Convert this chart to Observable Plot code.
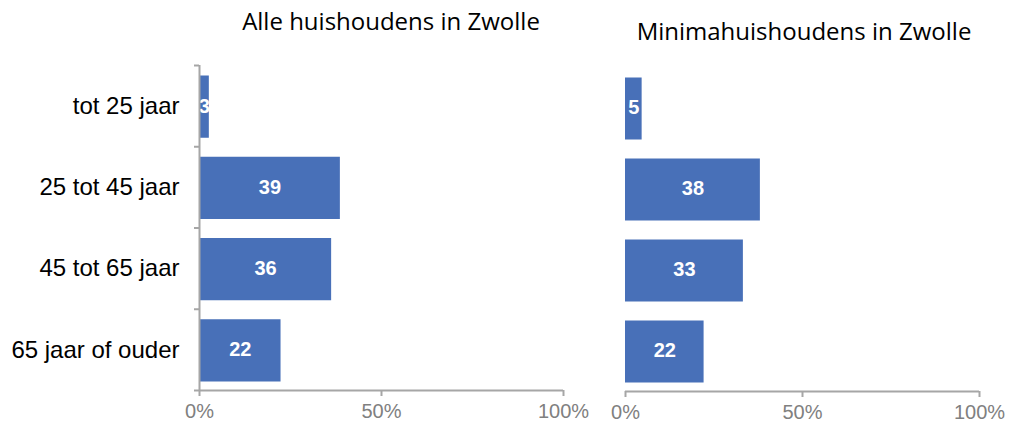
<!DOCTYPE html>
<html><head><meta charset="utf-8">
<script src="https://cdn.jsdelivr.net/npm/d3@7"></script>
<script src="https://cdn.jsdelivr.net/npm/@observablehq/plot@0.6"></script>
<style>
body{margin:0;background:#fff;}
#wrap{position:relative;width:1009px;height:426px;overflow:hidden;background:#fff;}
.panel{position:absolute;top:0;}
.title{position:absolute;font-family:"Open Sans",sans-serif;font-size:24px;color:#000;white-space:nowrap;transform:translateX(-50%);line-height:1;}
</style>
</head><body>
<div id="wrap"></div>
<script>
const categories = ["tot 25 jaar","25 tot 45 jaar","45 tot 65 jaar","65 jaar of ouder"];
const alleValues = [2.7, 38.7, 36.3, 22.4];
const minimaValues = [4.7, 38.1, 33.3, 22.2];
const xTicks = [0, 50, 100];
const titles = ["Alle huishoudens in Zwolle", "Minimahuishoudens in Zwolle"];

const barColor = "#4870b8";
const axisGray = "#a6a6a6";

function makePanel(values, opts) {
  const rows = categories.map((c, i) => ({cat: c, i, value: values[i]}));
  const marks = [
    Plot.rect(rows, {x1: () => 0, x2: "value", y1: "i", y2: d => d.i + 1, insetTop: 10.5, insetBottom: 8.5, fill: barColor}),
    Plot.text(rows, {x: d => d.value / 2, y: d => d.i + 0.5, text: d => String(Math.round(d.value)), fill: "white", fontWeight: "bold", fontSize: 20, fontFamily: "Liberation Sans, Arial, sans-serif"}),
    Plot.ruleY([categories.length], {stroke: axisGray, strokeWidth: 2}),
    Plot.axisX({ticks: xTicks, tickFormat: d => d + "%", tickSize: 6, tickPadding: 7, fontSize: 20, color: "#808080", stroke: axisGray, strokeWidth: 2, strokeOpacity: 1, label: null})
  ];
  if (opts.showY) {
    marks.push(
      Plot.ruleX([0], {stroke: axisGray, strokeWidth: 2}),
      Plot.axisY({ticks: d3.range(categories.length + 1), tickFormat: () => "", tickSize: 5, stroke: axisGray, strokeWidth: 2, strokeOpacity: 1, label: null}),
      Plot.axisY({ticks: categories.map((c, i) => i + 0.5), tickFormat: d => categories[Math.floor(d)], tickSize: 0, tickPadding: 20, fontSize: 24, fill: "#000", label: null})
    );
  }
  const svg = Plot.plot({
    width: opts.width,
    height: 426,
    marginLeft: opts.marginLeft,
    marginRight: opts.marginRight,
    marginTop: opts.marginTop,
    marginBottom: opts.marginBottom,
    style: {fontFamily: "Liberation Sans, Arial, sans-serif", background: "transparent", overflow: "visible"},
    x: {domain: [0, 100], label: null},
    y: {domain: [0, categories.length], reverse: true, label: null, axis: opts.showY ? undefined : null},
    marks
  });
  svg.classList.add("panel");
  svg.style.left = opts.left + "px";
  return svg;
}

const wrap = document.getElementById("wrap");
wrap.appendChild(makePanel(alleValues, {left: 0, width: 580, marginLeft: 199, marginRight: 17, marginTop: 65, marginBottom: 36, showY: true}));
wrap.appendChild(makePanel(minimaValues, {left: 580, width: 429, marginLeft: 45, marginRight: 30, marginTop: 67, marginBottom: 35, showY: false}));

const t1 = document.createElement("div");
t1.className = "title"; t1.textContent = titles[0];
t1.style.left = "391px"; t1.style.top = "9px";
wrap.appendChild(t1);
const t2 = document.createElement("div");
t2.className = "title"; t2.textContent = titles[1];
t2.style.left = "804px"; t2.style.top = "19px";
wrap.appendChild(t2);
</script>
</body></html>
